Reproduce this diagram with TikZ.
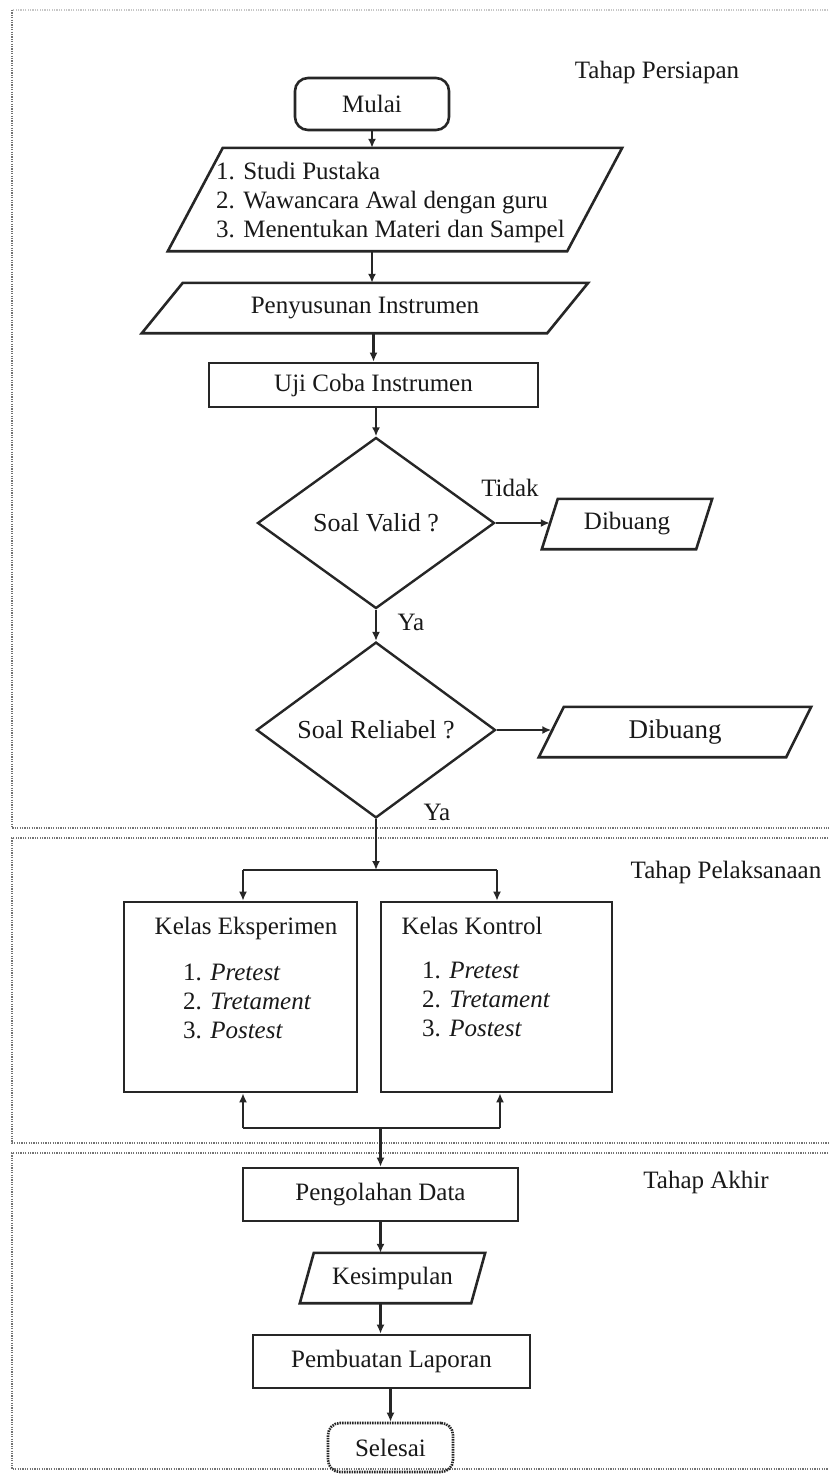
\documentclass[tikz,border=0pt]{standalone}
\usepackage{fontspec}
\setmainfont{Liberation Serif}
\usetikzlibrary{arrows.meta,shapes.geometric,calc}
\begin{document}
\begin{tikzpicture}[x=1pt,y=-1pt,
  every node/.style={text=black!90, font=\fontsize{25}{29}\selectfont},
  box/.style={draw=black!85, line width=2.6pt, rectangle, inner sep=0pt},
  pbox/.style={rectangle, inner sep=0pt, draw=none},
  boxln/.style={draw=black!85, line width=2.6pt, line join=miter},
  dia/.style={diamond, draw=black!85, line width=2.4pt, inner sep=0pt},
  arr/.style={-{Latex[length=9pt,width=8pt]}, line width=2.2pt, draw=black!85},
  ln/.style={line width=2.2pt, draw=black!85},
  region/.style={line width=2.6pt, draw=black!55, dash pattern=on 1.2pt off 1.2pt},
]
\useasboundingbox (0,0) rectangle (828,1475);
\fill[white] (0,0) rectangle (828,1475);

% stage regions
\draw[region, draw=black!22] (840,10) -- (12,10);
\draw[region] (12,10) -- (12,828) -- (840,828);
\draw[region] (840,838) -- (12,838) -- (12,1143) -- (840,1143);
\draw[region] (840,1153) -- (12,1153) -- (12,1469) -- (840,1469);

% stage labels
\node (tp1) at (657,72) {Tahap Persiapan};
\node (tp2) at (726,872) {Tahap Pelaksanaan};
\node (tp3) at (706,1182) {Tahap Akhir};

% preparation stage
\node[box, rounded corners=13pt, minimum width=154pt, minimum height=52pt] (mulai) at (372,104) {Mulai};
\node[pbox, minimum width=454pt, minimum height=103pt] (p1) at (395,199.5) {};
\draw[boxln] ($(p1.north west)+(55,0)$) -- (p1.north east) -- ($(p1.south east)+(-55,0)$) -- (p1.south west) -- cycle;
\node[anchor=west, align=left, inner sep=0pt] (p1t) at (216,202)
  {1. Studi Pustaka\\2. Wawancara Awal dengan guru\\3. Menentukan Materi dan Sampel};
\node[pbox, minimum width=446pt, minimum height=50pt] (p2) at (365,308) {Penyusunan Instrumen};
\draw[boxln] ($(p2.north west)+(41,0)$) -- (p2.north east) -- ($(p2.south east)+(-41,0)$) -- (p2.south west) -- cycle;
\node[box, minimum width=329pt, minimum height=44pt] (uji) at (373.5,385) {Uji Coba Instrumen};
\node[dia, minimum width=237pt, minimum height=171pt, font=\fontsize{26}{30}\selectfont] (d1) at (376,523) {Soal Valid ?};
\node[pbox, minimum width=170pt, minimum height=50pt] (db1) at (627,524) {Dibuang};
\draw[boxln] ($(db1.north west)+(16,0)$) -- (db1.north east) -- ($(db1.south east)+(-16,0)$) -- (db1.south west) -- cycle;
\node[dia, minimum width=239pt, minimum height=174pt, font=\fontsize{26}{30}\selectfont] (d2) at (376,730) {Soal Reliabel ?};
\node[pbox, minimum width=272pt, minimum height=50pt, font=\fontsize{27}{30}\selectfont] (db2) at (675,732) {Dibuang};
\draw[boxln] ($(db2.north west)+(25,0)$) -- (db2.north east) -- ($(db2.south east)+(-25,0)$) -- (db2.south west) -- cycle;
\node (tidak) at (510,488) {Tidak};
\node (ya1) at (411,622) {Ya};
\node (ya2) at (437,812) {Ya};

\draw[arr] (mulai.south) -- (mulai.south |- p1.north);
\draw[arr] (p1.south -| mulai.south) -- (p2.north -| mulai.south);
\draw[arr] (p2.south -| uji.north) -- (uji.north);
\draw[arr] (uji.south -| d1.north) -- (d1.north);
\draw[arr] (d1.east) -- ($(d1.east -| db1.west)+(8,0)$);
\draw[arr] (d1.south) -- (d2.north);
\draw[arr] (d2.east) -- ($(d2.east -| db2.west)+(12.5,0)$);

% implementation stage
\coordinate (j1) at (376,870);
\coordinate (bl) at (243,870);
\coordinate (br) at (497,870);
\node[box, minimum width=233pt, minimum height=190pt] (k1) at (240.5,997) {};
\node[box, minimum width=231pt, minimum height=190pt] (k2) at (496.5,997) {};
\node (k1t) at (246,928) {Kelas Eksperimen};
\node[anchor=west, align=left, inner sep=0pt] (k1l) at (183,1001) {1. \textit{Pretest}\\2. \textit{Tretament}\\3. \textit{Postest}};
\node (k2t) at (472,926) {Kelas Kontrol};
\node[anchor=west, align=left, inner sep=0pt] (k2l) at (422,999) {1. \textit{Pretest}\\2. \textit{Tretament}\\3. \textit{Postest}};
\draw[arr] (d2.south) -- (j1);
\draw[ln] (bl) -- (br);
\draw[arr] (bl) -- (bl |- k1.north);
\draw[arr] (br) -- (br |- k2.north);

\coordinate (cl) at (243,1128);
\coordinate (cr) at (500,1128);
\coordinate (j2) at (380.5,1128);
\draw[ln] (cl) -- (cr);
\draw[arr] (cl) -- (cl |- k1.south);
\draw[arr] (cr) -- (cr |- k2.south);

% final stage
\node[box, minimum width=275pt, minimum height=53pt] (peng) at (380.5,1194.5) {Pengolahan Data};
\node[pbox, minimum width=185pt, minimum height=50pt] (kes) at (392.5,1278) {Kesimpulan};
\draw[boxln] ($(kes.north west)+(14,0)$) -- (kes.north east) -- ($(kes.south east)+(-14,0)$) -- (kes.south west) -- cycle;
\node[box, minimum width=277pt, minimum height=53pt] (lap) at (391.5,1361.5) {Pembuatan Laporan};
\node[box, rounded corners=12pt, dash pattern=on 1.5pt off 1pt, minimum width=125pt, minimum height=49pt] (sel) at (390.5,1447.5) {Selesai};

\draw[arr] (j2) -- (j2 |- peng.north);
\draw[arr] (peng.south) -- (peng.south |- kes.north);
\draw[arr] (kes.south -| peng.south) -- (lap.north -| peng.south);
\draw[arr] (lap.south -| sel.north) -- (sel.north);
\end{tikzpicture}
\end{document}
